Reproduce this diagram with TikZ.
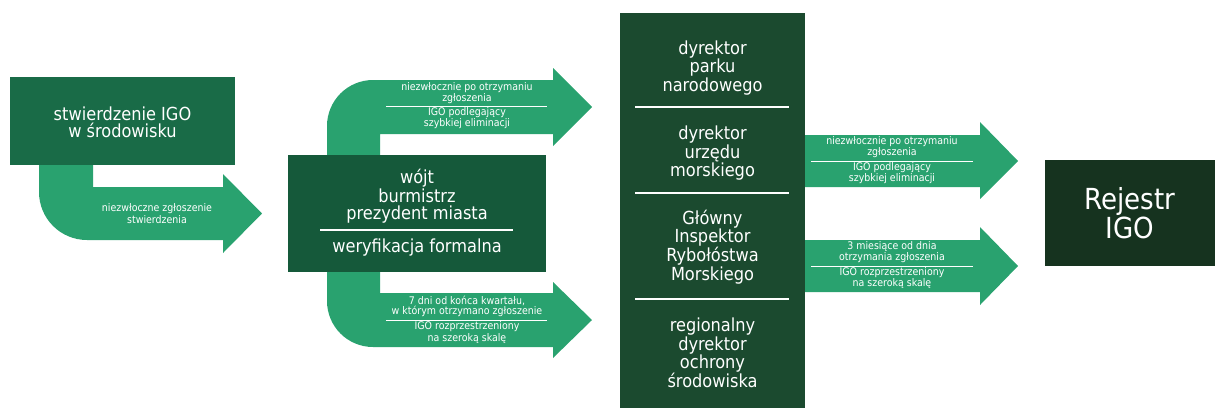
\documentclass[tikz,border=0pt]{standalone}
\usepackage{fontspec}
\setmainfont{DejaVu Sans Condensed}
\definecolor{arrowgreen}{HTML}{29A26F}
\definecolor{boxA}{HTML}{196B47}
\definecolor{boxB}{HTML}{15593A}
\definecolor{colC}{HTML}{1B4A2F}
\definecolor{boxD}{HTML}{16331F}
\tikzset{
  flow/.style={fill=arrowgreen, draw=none},
  blockbox/.style={draw=none, inner sep=0, minimum width=#1},
  tinytxt/.style={text=white, align=center, inner sep=0, font=\fontsize{10.5}{10}\selectfont},
  midtxt/.style={text=white, align=center, inner sep=0, font=\fontsize{18}{17}\selectfont},
  bigtxt/.style={text=white, align=center, inner sep=0, font=\fontsize{29}{27}\selectfont},
  thinsep/.style={draw=white, line width=0.9pt},
  thicksep/.style={draw=white, line width=2pt},
}
\begin{document}
\begin{tikzpicture}[x=1pt, y=-1pt]
\useasboundingbox (0,0) rectangle (1215,408);
% block arrows
\path[flow] (93,160) -- (93,187) -- (223,187) -- (223,174) -- (262,213.5) -- (223,253) -- (223,240) -- (87,240)
  arc[start angle=90, end angle=180, radius=48] -- (39,160) -- cycle;
\path[flow] (380,160) -- (380,134) -- (553,134) -- (553,146) -- (592,107) -- (553,68) -- (553,80) -- (373,80)
  arc[start angle=270, end angle=180, radius=46] -- (327,160) -- cycle;
\path[flow] (380,268) -- (380,293) -- (553,293) -- (553,282) -- (592,320) -- (553,358) -- (553,347) -- (373,347)
  arc[start angle=90, end angle=180, radius=46] -- (327,268) -- cycle;
\path[flow] (800,135) -- (980,135) -- (980,122) -- (1018,161) -- (980,199) -- (980,187) -- (800,187) -- cycle;
\path[flow] (800,240) -- (980,240) -- (980,227) -- (1018,266) -- (980,305) -- (980,292) -- (800,292) -- cycle;
% boxes
\node[blockbox=225pt, minimum height=88pt, fill=boxA] (b1) at (122.5,121) {};
\node[blockbox=258pt, minimum height=117pt, fill=boxB] (b2) at (417,213.5) {};
\node[blockbox=185pt, minimum height=395pt, fill=colC] (col) at (712.5,210.5) {};
\node[blockbox=170pt, minimum height=106pt, fill=boxD] (reg) at (1130,213) {};
% box texts
\node[midtxt] (t1) at (122.5,122) {stwierdzenie IGO\\w środowisku};
\node[midtxt] (t2) at (417,196) {wójt\\burmistrz\\prezydent miasta};
\draw[thicksep] (320,230) -- (513,230);
\node[midtxt] (t3) at (417,248) {weryfikacja formalna};
\node[midtxt] (c1) at (712.5,68) {dyrektor\\parku\\narodowego};
\node[midtxt] (c2) at (712.5,153) {dyrektor\\urzędu\\morskiego};
\node[midtxt] (c3) at (712.5,247) {Główny\\Inspektor\\Rybołóstwa\\Morskiego};
\node[midtxt] (c4) at (712.5,353) {regionalny\\dyrektor\\ochrony\\środowiska};
\draw[thicksep] (635,107) -- (789,107);
\draw[thicksep] (635,193) -- (789,193);
\draw[thicksep] (635,299) -- (789,299);
\node[bigtxt] (r1) at (1130,213) {Rejestr\\IGO};
% arrow labels
\node[tinytxt] (a1) at (157,213.5) {niezwłoczne zgłoszenie\\stwierdzenia};
\node[tinytxt] (u1) at (467,93) {niezwłocznie po otrzymaniu\\zgłoszenia};
\draw[thinsep] (386,106) -- (547,106);
\node[tinytxt] (u2) at (467,118) {IGO podlegający\\szybkiej eliminacji};
\node[tinytxt] (l1) at (467,306) {7 dni od końca kwartału,\\w którym otrzymano zgłoszenie};
\draw[thinsep] (386,320) -- (547,320);
\node[tinytxt] (l2) at (467,332.5) {IGO rozprzestrzeniony\\na szeroką skalę};
\node[tinytxt] (ru1) at (892,147) {niezwłocznie po otrzymaniu\\zgłoszenia};
\draw[thinsep] (811,161) -- (973,161);
\node[tinytxt] (ru2) at (892,173) {IGO podlegający\\szybkiej eliminacji};
\node[tinytxt] (rl1) at (892,252) {3 miesiące od dnia\\otrzymania zgłoszenia};
\draw[thinsep] (811,266) -- (973,266);
\node[tinytxt] (rl2) at (892,278) {IGO rozprzestrzeniony\\na szeroką skalę};
\end{tikzpicture}
\end{document}
